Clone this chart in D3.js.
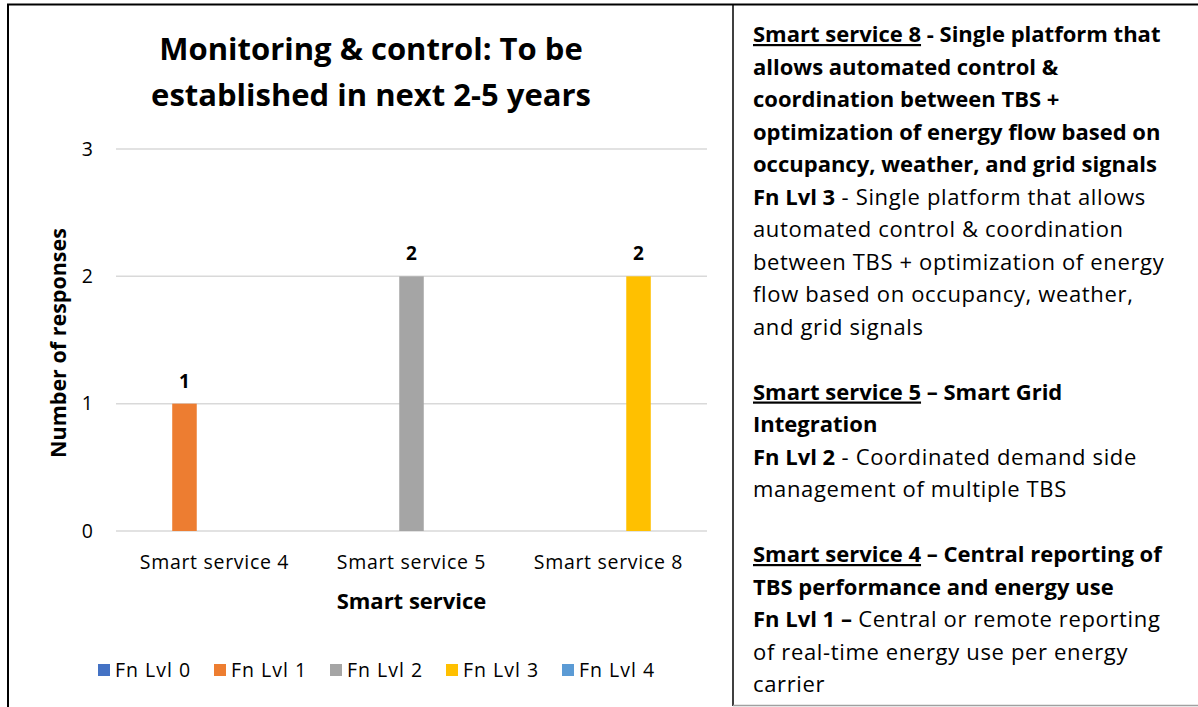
<!DOCTYPE html>
<html>
<head>
<meta charset="utf-8">
<script src="https://cdn.jsdelivr.net/npm/d3@7"></script>
<style>
    body { margin: 0; background: #fff; }
    svg { display: block; font-family: "Open Sans", Lato, sans-serif; }
</style>
</head>
<body>
<svg id="chart" width="1198" height="707"></svg>
<script>
let categories = ["Smart service 4", "Smart service 5", "Smart service 8"];
let seriesNames = ["Fn Lvl 0", "Fn Lvl 1", "Fn Lvl 2", "Fn Lvl 3", "Fn Lvl 4"];
let seriesColors = ["#4472C4", "#ED7D31", "#A5A5A5", "#FFC000", "#5B9BD5"];
let lvl0Values = [0, 0, 0];
let lvl1Values = [1, 0, 0];
let lvl2Values = [0, 2, 0];
let lvl3Values = [0, 0, 2];
let lvl4Values = [0, 0, 0];
let yTicks = [0, 1, 2, 3];
let titleLines = ["Monitoring & control: To be", "established in next 2-5 years"];

// right-hand note box, one entry per line: [text, style] with b = bold, u = underline, n = normal
let noteLines = [
    [["Smart service 8", "bu"], [" - Single platform that", "b"]],
    [["allows automated control &", "b"]],
    [["coordination between TBS +", "b"]],
    [["optimization of energy flow based on", "b"]],
    [["occupancy, weather, and grid signals", "b"]],
    [["Fn Lvl 3", "b"], [" - Single platform that allows", "n"]],
    [["automated control & coordination", "n"]],
    [["between TBS + optimization of energy", "n"]],
    [["flow based on occupancy, weather,", "n"]],
    [["and grid signals", "n"]],
    [],
    [["Smart service 5", "bu"], [" \u2013 Smart Grid", "b"]],
    [["Integration", "b"]],
    [["Fn Lvl 2", "b"], [" - Coordinated demand side", "n"]],
    [["management of multiple TBS", "n"]],
    [],
    [["Smart service 4", "bu"], [" \u2013 Central reporting of", "b"]],
    [["TBS performance and energy use", "b"]],
    [["Fn Lvl 1 \u2013", "b"], [" Central or remote reporting", "n"]],
    [["of real-time energy use per energy", "n"]],
    [["carrier", "n"]],
];

let seriesValues = [lvl0Values, lvl1Values, lvl2Values, lvl3Values, lvl4Values];

let svg = d3.select("#chart");

// frames
svg.append("path")
    .attr("d", "M8,707 L8,4.5 L1198,4.5")
    .attr("fill", "none")
    .attr("stroke", "#000")
    .attr("stroke-width", 2);
svg.append("line")
    .attr("x1", 733).attr("x2", 733).attr("y1", 4).attr("y2", 706)
    .attr("stroke", "#000").attr("stroke-width", 1.5);
svg.append("line")
    .attr("x1", 733).attr("x2", 1198).attr("y1", 705.5).attr("y2", 705.5)
    .attr("stroke", "#a0a0a0").attr("stroke-width", 1.5);

let plotLeft = 116, plotRight = 707, plotTop = 149, plotBottom = 531;

let x0 = d3.scaleBand()
    .domain(categories)
    .range([plotLeft, plotRight])
    .paddingInner(0.266)
    .paddingOuter(0.133);
let x1 = d3.scaleBand()
    .domain(seriesNames)
    .range([0, x0.bandwidth()])
    .paddingInner(0.183);
let y = d3.scaleLinear()
    .domain([0, 3])
    .range([plotBottom, plotTop]);

// gridlines
svg.append("g")
    .selectAll("line")
    .data(yTicks)
    .join("line")
    .attr("x1", plotLeft).attr("x2", plotRight)
    .attr("y1", d => y(d)).attr("y2", d => y(d))
    .attr("stroke", "#d9d9d9")
    .attr("stroke-width", 1.5);

// y tick labels
svg.append("g")
    .selectAll("text")
    .data(yTicks)
    .join("text")
    .attr("x", 93)
    .attr("y", d => y(d))
    .attr("dy", "0.35em")
    .attr("text-anchor", "end")
    .attr("font-size", 19.5)
    .attr("fill", "#000")
    .text(d => d);

// bars
let barData = [];
seriesNames.forEach((name, i) => {
    categories.forEach((cat, j) => {
        barData.push({ series: name, category: cat, value: seriesValues[i][j], color: seriesColors[i] });
    });
});
let nonZero = barData.filter(d => d.value > 0);

svg.append("g")
    .selectAll("rect")
    .data(nonZero)
    .join("rect")
    .attr("x", d => x0(d.category) + x1(d.series))
    .attr("width", x1.bandwidth())
    .attr("y", d => y(d.value))
    .attr("height", d => y(0) - y(d.value))
    .attr("fill", d => d.color);

svg.append("g")
    .selectAll("text")
    .data(nonZero)
    .join("text")
    .attr("x", d => x0(d.category) + x1(d.series) + x1.bandwidth() / 2)
    .attr("y", d => y(d.value) - 16)
    .attr("text-anchor", "middle")
    .attr("font-size", 19)
    .attr("font-weight", "bold")
    .text(d => d.value);

// x tick labels
svg.append("g")
    .selectAll("text")
    .data(categories)
    .join("text")
    .attr("x", d => x0(d) + x0.bandwidth() / 2)
    .attr("y", 569)
    .attr("text-anchor", "middle")
    .attr("font-size", 19.5)
    .attr("letter-spacing", 0.7)
    .text(d => d);

// axis titles
svg.append("text")
    .attr("x", (plotLeft + plotRight) / 2)
    .attr("y", 609)
    .attr("text-anchor", "middle")
    .attr("font-size", 22)
    .attr("font-weight", "bold")
    .text("Smart service");

svg.append("text")
    .attr("transform", `translate(66, ${(plotTop + plotBottom) / 2 + 3}) rotate(-90)`)
    .attr("text-anchor", "middle")
    .attr("font-size", 21.5)
    .attr("font-weight", "bold")
    .text("Number of responses");

// title
svg.append("g")
    .selectAll("text")
    .data(titleLines)
    .join("text")
    .attr("x", 371)
    .attr("y", (d, i) => 60 + i * 46)
    .attr("text-anchor", "middle")
    .attr("font-size", 31)
    .attr("font-weight", "bold")
    .text(d => d);

// legend
let legend = svg.append("g")
    .selectAll("g")
    .data(seriesNames)
    .join("g")
    .attr("transform", (d, i) => `translate(${98 + i * 116}, 670)`);
legend.append("rect")
    .attr("x", 0).attr("y", -6)
    .attr("width", 12).attr("height", 12)
    .attr("fill", (d, i) => seriesColors[i]);
legend.append("text")
    .attr("x", 17)
    .attr("dy", "0.35em")
    .attr("font-size", 19.5)
    .attr("letter-spacing", 1)
    .text(d => d);

// note box
let note = svg.append("text")
    .attr("font-size", 22)
    .attr("fill", "#000");
noteLines.forEach((segments, i) => {
    let lineY = 42 + i * 32.5;
    segments.forEach((seg, k) => {
        let t = note.append("tspan")
            .attr("font-weight", seg[1].includes("b") ? "bold" : "normal")
            .attr("text-decoration", seg[1].includes("u") ? "underline" : null)
            .attr("letter-spacing", seg[1] === "n" ? 0.65 : null)
            .attr("xml:space", "preserve")
            .text(seg[0]);
        if (k === 0) {
            t.attr("x", 753).attr("y", lineY);
        }
    });
});
</script>
</body>
</html>
